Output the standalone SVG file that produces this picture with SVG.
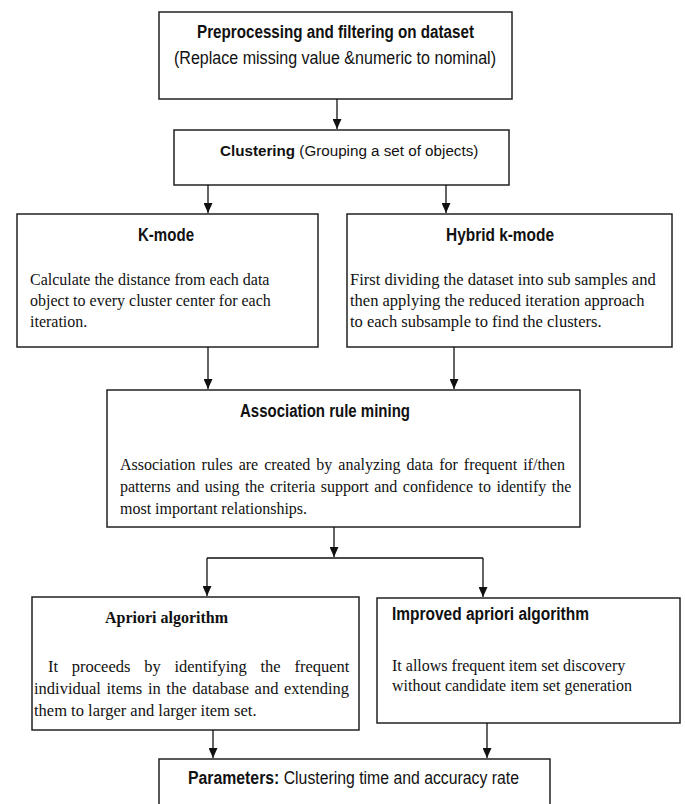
<svg xmlns="http://www.w3.org/2000/svg" width="685" height="804" viewBox="0 0 685 804">
<style>
.box{fill:#fff;stroke:#222;stroke-width:1.5}
.cb{font-family:"Liberation Sans",Arial,sans-serif;font-weight:bold;font-size:17.5px;fill:#111}
.cr{font-family:"Liberation Sans",Arial,sans-serif;font-size:17.5px;fill:#111}
.b{font-weight:bold}
.t{font-family:"Liberation Serif","Times New Roman",serif;font-size:16px;fill:#111}
.t2{font-size:16.5px}
.tb{font-family:"Liberation Serif","Times New Roman",serif;font-weight:bold;font-size:16px;fill:#111}
.edge{fill:none;stroke:#111;stroke-width:1.3}
</style>
<defs>
<marker id="ah" markerUnits="userSpaceOnUse" markerWidth="10" markerHeight="9" refX="10" refY="4.5" orient="auto">
<path d="M0,0 L10,4.5 L0,9 z" fill="#111"/>
</marker>
</defs>
<rect width="685" height="804" fill="#fff"/>
<g id="n-preprocessing">
<rect class="box" x="159" y="12" width="353" height="87"/>
<text class="cb" x="197" y="38" textLength="277" lengthAdjust="spacingAndGlyphs">Preprocessing and filtering on dataset</text>
<text class="cr" x="174" y="64" textLength="322" lengthAdjust="spacingAndGlyphs">(Replace missing value &amp;numeric to nominal)</text>
</g>
<g id="n-clustering">
<rect class="box" x="174" y="130" width="335" height="55"/>
<text class="cr" x="220" y="156" style="font-size:15.2px"><tspan class="b">Clustering</tspan> (Grouping a set of objects)</text>
</g>
<g id="n-kmode">
<rect class="box" x="17" y="214" width="301" height="133"/>
<text class="cb" x="138" y="241" textLength="56" lengthAdjust="spacingAndGlyphs">K-mode</text>
<text class="t" x="30" y="285">Calculate the distance from each data</text>
<text class="t" x="30" y="306">object to every cluster center for each</text>
<text class="t" x="30" y="327">iteration.</text>
</g>
<g id="n-hybrid">
<rect class="box" x="347" y="214" width="325" height="133"/>
<text class="cb" x="446" y="241" textLength="108" lengthAdjust="spacingAndGlyphs">Hybrid k-mode</text>
<text class="t t2" x="350" y="285">First dividing the dataset into sub samples and</text>
<text class="t t2" x="350" y="306">then applying the reduced iteration approach</text>
<text class="t t2" x="350" y="327">to each subsample to find the clusters.</text>
</g>
<g id="n-association">
<rect class="box" x="107" y="390" width="473" height="137"/>
<text class="cb" x="240" y="417" textLength="170" lengthAdjust="spacingAndGlyphs">Association rule mining</text>
<text class="t" x="120" y="470" word-spacing="2">Association rules are created by analyzing data for frequent if/then</text>
<text class="t" x="120" y="492" word-spacing="1.5">patterns and using the criteria support and confidence to identify the</text>
<text class="t" x="120" y="514">most important relationships.</text>
</g>
<g id="n-apriori">
<rect class="box" x="32" y="597" width="327" height="133"/>
<text class="tb" x="105" y="623">Apriori algorithm</text>
<text class="t t2" x="48" y="672" word-spacing="9.6">It proceeds by identifying the frequent</text>
<text class="t t2" x="34" y="694" word-spacing="1.5">individual items in the database and extending</text>
<text class="t t2" x="34" y="716">them to larger and larger item set.</text>
</g>
<g id="n-improved">
<rect class="box" x="377" y="598" width="303" height="125"/>
<text class="cb" x="392" y="620" textLength="197" lengthAdjust="spacingAndGlyphs">Improved apriori algorithm</text>
<text class="t" x="392" y="671">It allows frequent item set discovery</text>
<text class="t" x="392" y="691">without candidate item set generation</text>
</g>
<g id="n-parameters">
<rect class="box" x="159" y="759" width="391" height="60"/>
<text class="cr" x="188" y="784" textLength="331" lengthAdjust="spacingAndGlyphs"><tspan class="b">Parameters:</tspan> Clustering time and accuracy rate</text>
</g>
<g id="connectors">
<path class="edge" d="M337,99 V129" marker-end="url(#ah)"/>
<path class="edge" d="M208,185 V213" marker-end="url(#ah)"/>
<path class="edge" d="M446,185 V213" marker-end="url(#ah)"/>
<path class="edge" d="M208,347 V389" marker-end="url(#ah)"/>
<path class="edge" d="M454,347 V389" marker-end="url(#ah)"/>
<path class="edge" d="M334,527 V557" marker-end="url(#ah)"/>
<path class="edge" d="M207,558 H483"/>
<path class="edge" d="M207,558 V596" marker-end="url(#ah)"/>
<path class="edge" d="M483,558 V597" marker-end="url(#ah)"/>
<path class="edge" d="M213,730 V758" marker-end="url(#ah)"/>
<path class="edge" d="M487,723 V758" marker-end="url(#ah)"/>
</g>
</svg>
